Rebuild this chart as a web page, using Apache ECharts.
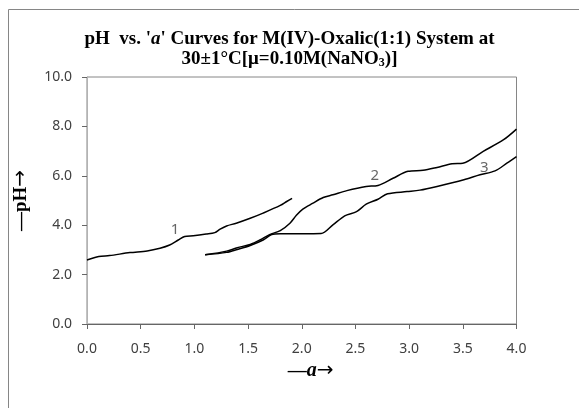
<!DOCTYPE html>
<html>
<head>
<meta charset="utf-8">
<script src="https://cdn.jsdelivr.net/npm/echarts@6/dist/echarts.min.js"></script>
<style>
  html, body { margin: 0; padding: 0; background: #fff; }
  #chart { width: 579px; height: 408px; }
</style>
</head>
<body>
<div id="chart"></div>
<script>
// curve 1
var curve1A  = [0, 0.11, 0.21, 0.40, 0.56, 0.68, 0.77, 0.85, 0.91, 0.99, 1.11, 1.19, 1.24, 1.30, 1.39, 1.52, 1.64, 1.80, 1.86, 1.91];
var curve1PH = [2.59, 2.73, 2.77, 2.89, 2.96, 3.07, 3.20, 3.40, 3.54, 3.57, 3.64, 3.70, 3.84, 3.97, 4.08, 4.28, 4.49, 4.80, 4.96, 5.09];
// curve 2
var curve2A  = [1.10, 1.30, 1.40, 1.52, 1.61, 1.70, 1.80, 1.89, 1.95, 2.01, 2.10, 2.20, 2.29, 2.42, 2.60, 2.71, 2.85, 2.99, 3.13, 3.26, 3.40, 3.50, 3.69, 3.88, 4.00];
var curve2PH = [2.80, 2.95, 3.09, 3.22, 3.40, 3.62, 3.78, 4.08, 4.40, 4.65, 4.88, 5.12, 5.23, 5.40, 5.57, 5.61, 5.90, 6.18, 6.22, 6.34, 6.49, 6.51, 6.99, 7.46, 7.89];
// curve 3
var curve3A  = [1.10, 1.30, 1.40, 1.52, 1.64, 1.72, 1.80, 2.00, 2.18, 2.29, 2.40, 2.51, 2.60, 2.71, 2.80, 2.98, 3.10, 3.26, 3.51, 3.66, 3.80, 3.91, 4.00];
var curve3PH = [2.80, 2.90, 3.02, 3.18, 3.40, 3.62, 3.65, 3.65, 3.66, 4.01, 4.38, 4.55, 4.85, 5.05, 5.27, 5.36, 5.42, 5.57, 5.84, 6.04, 6.20, 6.51, 6.78];

// curve numbers written next to the lines
var curveNames = ['1', '2', '3'];
var nameA  = [0.82, 2.68, 3.70];
var namePH = [3.81, 6.00, 6.31];

function pairs(xs, ys) {
  return xs.map(function (x, i) { return [x, ys[i]]; });
}

var serif = '"Liberation Serif", "DejaVu Serif", serif';
var sans = '"Noto Sans", "Liberation Sans", sans-serif';
var txt = '#404040';

function curve(xs, ys) {
  return {
    type: 'line',
    data: pairs(xs, ys),
    smooth: 0.3,
    symbol: 'none',
    lineStyle: { color: '#000', width: 1.5 },
    z: 3
  };
}

var nameRich = {
  d: { fontFamily: serif, fontWeight: 'bold', fontSize: 19, color: '#000' },
  i: { fontFamily: serif, fontWeight: 'bold', fontStyle: 'italic', fontSize: 20, color: '#000' },
  r: { fontFamily: '"DejaVu Sans", sans-serif', fontSize: 20, color: '#000' }
};

var chart = echarts.init(document.getElementById('chart'));
var option = {
  backgroundColor: '#fff',
  animation: false,
  graphic: [{
    type: 'rect',
    shape: { x: 8.5, y: 9.5, width: 620, height: 440 },
    style: { fill: 'none', stroke: '#868686', lineWidth: 1 },
    silent: true
  }],
  title: {
    left: 'center',
    top: 25,
    text: "{b|pH  vs. '}{i|a}{b|' Curves for M(IV)-Oxalic(1:1) System at}\n{b|30±1°C[μ=0.10M(NaNO}{s|3}{b|)]}",
    textStyle: {
      rich: {
        b: { fontFamily: serif, fontWeight: 'bold', fontSize: 19, color: '#000', lineHeight: 19 },
        i: { fontFamily: serif, fontWeight: 'bold', fontStyle: 'italic', fontSize: 19, color: '#000', lineHeight: 19 },
        s: { fontFamily: serif, fontWeight: 'bold', fontSize: 12, color: '#000', padding: [8, 0, 0, 0] }
      }
    }
  },
  grid: { left: 87, right: 62.5, top: 77, bottom: 84, show: true, borderColor: '#868686', borderWidth: 1 },
  xAxis: {
    type: 'value',
    min: 0, max: 4, interval: 0.5,
    name: '{d|—}{i|a}{r|→}',
    nameLocation: 'middle',
    nameGap: 37,
    nameTextStyle: { padding: [0, 0, 0, 18], rich: nameRich },
    axisLine: { lineStyle: { color: '#666', width: 1 } },
    axisTick: { inside: false, length: 5, lineStyle: { color: '#666' } },
    axisLabel: { formatter: function (v) { return v.toFixed(1); }, fontFamily: sans, fontSize: 14, color: txt, margin: 18 },
    splitLine: { show: false }
  },
  yAxis: {
    type: 'value',
    min: 0, max: 10, interval: 2,
    name: '{d|—pH}{r|→}',
    nameLocation: 'middle',
    nameGap: 56,
    nameTextStyle: { rich: nameRich },
    axisLine: { show: true, lineStyle: { color: '#b3b3b3', width: 1 } },
    axisTick: { show: true, inside: false, length: 5, lineStyle: { color: '#666' } },
    axisLabel: { formatter: function (v) { return v.toFixed(1); }, fontFamily: sans, fontSize: 14, color: txt, margin: 15 },
    splitLine: { show: false }
  },
  series: [
    curve(curve1A, curve1PH),
    curve(curve2A, curve2PH),
    curve(curve3A, curve3PH),
    {
      type: 'scatter',
      symbolSize: 0,
      data: curveNames.map(function (n, i) { return { value: [nameA[i], namePH[i]], name: n }; }),
      label: {
        show: true,
        position: 'inside',
        formatter: '{b}',
        fontFamily: sans,
        fontSize: 15,
        color: txt
      },
      z: 4
    }
  ]
};
chart.setOption(option);
</script>
</body>
</html>
